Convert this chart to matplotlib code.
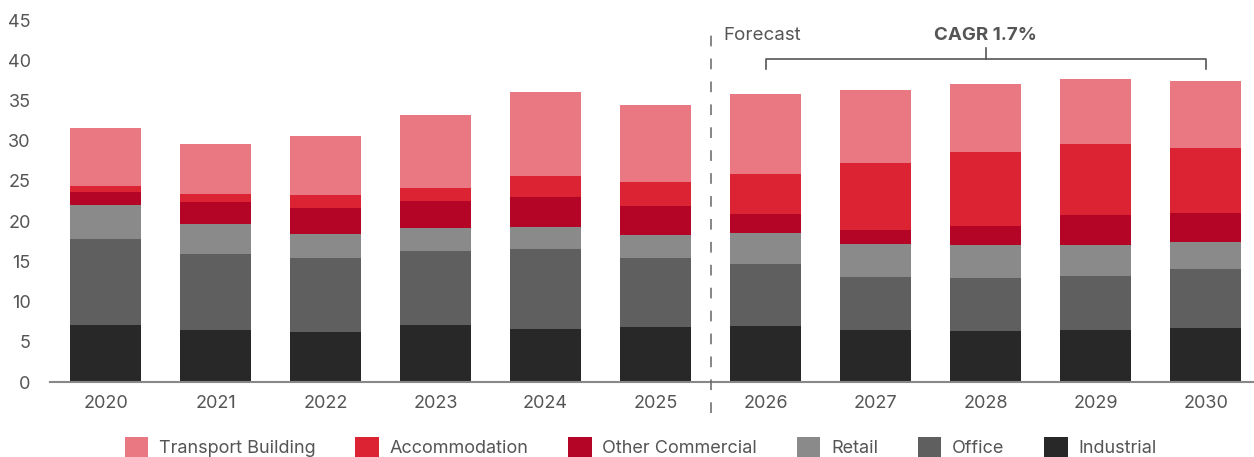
import matplotlib
matplotlib.use("Agg")
import matplotlib.pyplot as plt
import numpy as np

plt.rcParams['font.family'] = ['Inter', 'DejaVu Sans']

years = ['2020', '2021', '2022', '2023', '2024', '2025',
         '2026', '2027', '2028', '2029', '2030']

industrial = [7.05, 6.43, 6.18, 7.05, 6.55, 6.80, 6.93, 6.43, 6.31, 6.43, 6.68]
office = [10.70, 9.44, 9.20, 9.21, 9.95, 8.58, 7.71, 6.59, 6.59, 6.72, 7.34]
retail = [4.23, 3.73, 2.99, 2.86, 2.74, 2.86, 3.85, 4.11, 4.10, 3.85, 3.36]
other_commercial = [1.62, 2.75, 3.23, 3.35, 3.74, 3.61, 2.37, 1.74, 2.37, 3.73, 3.60]
accommodation = [0.75, 0.99, 1.62, 1.62, 2.61, 2.99, 4.97, 8.33, 9.20, 8.84, 8.09]
transport = [7.20, 6.22, 7.34, 9.08, 10.44, 9.57, 9.95, 9.08, 8.46, 8.08, 8.33]

# bottom-up stacking order
series = [
    ('Industrial', industrial, '#282828'),
    ('Office', office, '#5f5f5f'),
    ('Retail', retail, '#8a8a8a'),
    ('Other Commercial', other_commercial, '#b50527'),
    ('Accommodation', accommodation, '#dc2334'),
    ('Transport Building', transport, '#e97882'),
]

text_col = '#555555'

fig = plt.figure(figsize=(12.54, 4.57), dpi=100)
ax = fig.add_axes([0.0399, 0.1641, 0.9601, 0.7921])

x = np.arange(len(years))
bottom = np.zeros(len(years))
handles = {}
for name, vals, col in series:
    bars = ax.bar(x, vals, width=0.645, bottom=bottom, color=col, label=name)
    handles[name] = bars
    bottom += np.array(vals)

ax.set_xlim(-0.505, 10.44)
ax.set_ylim(0, 45)
ax.set_yticks(range(0, 50, 5))
ax.set_xticks(x)
ax.set_xticklabels(years)
ax.tick_params(axis='both', length=0, labelsize=13, colors=text_col)
ax.tick_params(axis='x', pad=9)
ax.tick_params(axis='y', pad=14)

for s in ['top', 'right', 'left']:
    ax.spines[s].set_visible(False)
ax.spines['bottom'].set_color('#888888')
ax.spines['bottom'].set_linewidth(1.5)

# actual / forecast divider
ax.plot([5.5, 5.5], [-3.9, 44.4], color='#666666', lw=1.1,
        linestyle=(0, (7, 8)), clip_on=False, zorder=3)
ax.text(5.62, 43.1, 'Forecast', fontsize=13.5, color=text_col,
        ha='left', va='center')

# CAGR bracket over forecast years
ax.plot([6, 6, 10, 10], [38.9, 40.2, 40.2, 38.9], color=text_col, lw=1.2,
        clip_on=False)
ax.plot([8, 8], [40.2, 41.55], color=text_col, lw=1.2, clip_on=False)
ax.text(8, 43.1, 'CAGR 1.7%', fontsize=13.5, fontweight='bold',
        color=text_col, ha='center', va='center')

order = ['Transport Building', 'Accommodation', 'Other Commercial',
         'Retail', 'Office', 'Industrial']
leg = fig.legend([handles[n] for n in order], order, loc='center',
                 bbox_to_anchor=(0.511, 0.022), ncol=6, frameon=False,
                 fontsize=13, handlelength=1.3, handleheight=1.3,
                 handletextpad=0.6, columnspacing=2.2)
for t in leg.get_texts():
    t.set_color(text_col)

fig.savefig('out.png', dpi=100)
